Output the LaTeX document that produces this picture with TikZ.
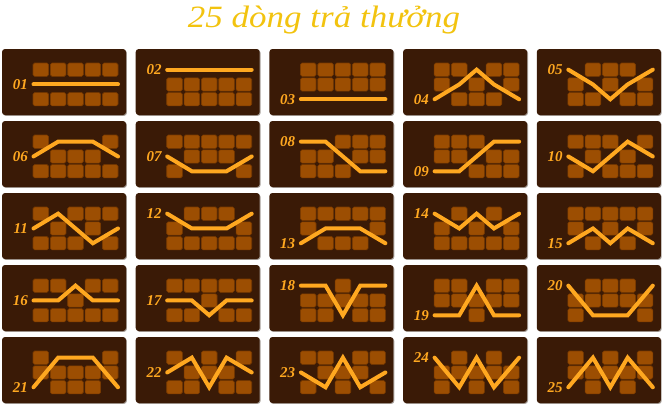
\documentclass[tikz,border=0pt]{standalone}
\usepackage{fontspec}
\setmainfont{Liberation Serif}
\definecolor{panelc}{HTML}{3A1A06}
\definecolor{shadowc}{HTML}{A8A09A}
\definecolor{cellc}{HTML}{9C4E02}
\definecolor{celledge}{HTML}{7A3A00}
\definecolor{linec}{HTML}{FFA820}
\definecolor{titlec}{HTML}{F2C30F}
\tikzset{
  panelbox/.style={fill=panelc, rounded corners=3pt},
  shadowbox/.style={fill=shadowc, rounded corners=3pt},
  cellbox/.style={fill=cellc, draw=celledge, line width=0.6pt, rounded corners=1.6pt},
  payline/.style={draw=linec, line width=4pt, line cap=round},
  lbl/.style={text=linec, inner sep=0pt, font=\fontsize{15}{15}\selectfont\bfseries\itshape},
  titletext/.style={text=titlec, inner sep=0pt, font=\fontsize{31}{31}\selectfont\itshape}
}
\begin{document}
\begin{tikzpicture}[x=1pt,y=-1pt]
\useasboundingbox (0,0) rectangle (663,405);
\node[titletext, anchor=base] (title) at (324,27) {\scalebox{1.13}[1]{25 dòng trả thưởng}};
\foreach \n/\a/\b/\c/\d/\e [count=\i from 0] in {
  01/1/1/1/1/1, 02/0/0/0/0/0, 03/2/2/2/2/2, 04/2/1/0/1/2, 05/0/1/2/1/0,
  06/1/0/0/0/1, 07/1/2/2/2/1, 08/0/0/1/2/2, 09/2/2/1/0/0, 10/1/2/1/0/1,
  11/1/0/1/2/1, 12/0/1/1/1/0, 13/2/1/1/1/2, 14/0/1/0/1/0, 15/2/1/2/1/2,
  16/1/1/0/1/1, 17/1/1/2/1/1, 18/0/0/2/0/0, 19/2/2/0/2/2, 20/0/2/2/2/0,
  21/2/0/0/0/2, 22/1/0/2/0/1, 23/1/2/0/2/1, 24/0/2/0/2/0, 25/2/0/2/0/2} {
  \pgfmathtruncatemacro\col{mod(\i,5)}
  \pgfmathtruncatemacro\row{div(\i,5)}
  \pgfmathsetmacro\px{2+133.7*\col}
  \pgfmathsetmacro\py{49+72*\row}
  \begin{scope}[shift={(\px,\py)}]
    \fill[shadowbox] (0.9,0.9) rectangle (124.9,66.9);
    \fill[panelbox] (0,0) rectangle (124,66);
    \foreach \k/\rr in {0/\a,1/\b,2/\c,3/\d,4/\e} {
      \foreach \r in {0,1,2} {
        \ifnum\r=\rr\relax\else
          \pgfmathsetmacro\cx{31+17.35*\k}
          \pgfmathsetmacro\cy{14+14.8*\r}
          \draw[cellbox] (\cx,\cy) rectangle ++(15.6,13.3);
        \fi
      }
    }
    \coordinate (s\n) at (31.5, 20.65+14.8*\a);
    \coordinate (b\n) at (38.8+17.35, 20.65+14.8*\b);
    \coordinate (c\n) at (38.8+34.7, 20.65+14.8*\c);
    \coordinate (d\n) at (38.8+52.05, 20.65+14.8*\d);
    \coordinate (e\n) at (116, 20.65+14.8*\e);
    \draw[payline] (s\n) -- (b\n) -- (c\n) -- (d\n) -- (e\n);
    \node[lbl, anchor=east] (l\n) at (26, 20.65+14.8*\a) {\n};
  \end{scope}
}
\end{tikzpicture}
\end{document}
